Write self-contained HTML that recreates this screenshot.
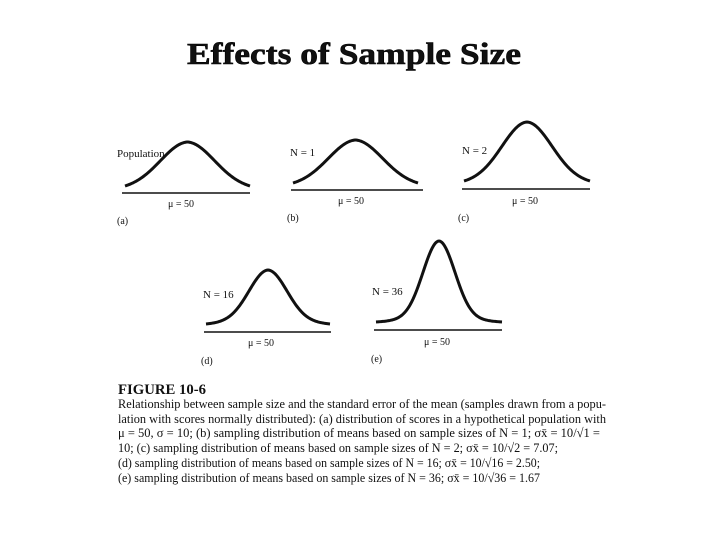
<!DOCTYPE html>
<html><head><meta charset="utf-8"><style>
body{margin:0;background:#fff}
svg{display:block}
text{font-family:"Liberation Serif",serif;fill:#111}
</style></head><body>
<svg id="fig" width="720" height="540" viewBox="0 0 720 540">
<text x="187" y="64" font-size="31" font-weight="bold" stroke="#000" stroke-width="0.6" textLength="334" lengthAdjust="spacingAndGlyphs">Effects of Sample Size</text>
<g id="panels"></g>
<g font-size="13">
<text x="118" y="394" font-size="15" font-weight="bold" textLength="88" lengthAdjust="spacingAndGlyphs">FIGURE 10-6</text>
<text x="118" y="408" textLength="488" lengthAdjust="spacingAndGlyphs">Relationship between sample size and the standard error of the mean (samples drawn from a popu-</text>
<text x="118" y="423" textLength="488" lengthAdjust="spacingAndGlyphs">lation with scores normally distributed): (a) distribution of scores in a hypothetical population with</text>
<text x="118" y="437" textLength="482" lengthAdjust="spacingAndGlyphs">μ = 50, σ = 10; (b) sampling distribution of means based on sample sizes of N = 1; σx̄ = 10/√1 =</text>
<text x="118" y="452" textLength="440" lengthAdjust="spacingAndGlyphs">10; (c) sampling distribution of means based on sample sizes of N = 2; σx̄ = 10/√2 = 7.07;</text>
<text x="118" y="467" textLength="422" lengthAdjust="spacingAndGlyphs">(d) sampling distribution of means based on sample sizes of N = 16; σx̄ = 10/√16 = 2.50;</text>
<text x="118" y="482" textLength="422" lengthAdjust="spacingAndGlyphs">(e) sampling distribution of means based on sample sizes of N = 36; σx̄ = 10/√36 = 1.67</text>
</g>
</svg>
<script>
const panelNames = ["a","b","c","d","e"];
const panelLabels = ["Population","N = 1","N = 2","N = 16","N = 36"];
const peakHeights = [46, 45, 61, 56, 83];
const widths = [27, 27, 25, 19, 16];
const meanLabels = ["μ = 50","μ = 50","μ = 50","μ = 50","μ = 50"];
// layout
const layout = [
 {x0:125,x1:250,base:193,tail:186,bx0:122,bx1:250,lx:117,ly:157,ml:168,my:207,px:117,py:224},
 {x0:293,x1:418,base:190,tail:183,bx0:291,bx1:423,lx:290,ly:156,ml:338,my:204,px:287,py:221},
 {x0:464,x1:590,base:189,tail:181,bx0:462,bx1:590,lx:462,ly:154,ml:512,my:204,px:458,py:221},
 {x0:206,x1:330,base:332,tail:324,bx0:204,bx1:331,lx:203,ly:298,ml:248,my:346,px:201,py:364},
 {x0:376,x1:502,base:330,tail:322,bx0:374,bx1:502,lx:372,ly:295,ml:424,my:345,px:371,py:362}
];
const NS="http://www.w3.org/2000/svg";
const g=document.getElementById("panels");
function mk(t,a){const e=document.createElementNS(NS,t);for(const k in a)e.setAttribute(k,a[k]);return e;}
panelNames.forEach((n,i)=>{
 const L=layout[i];
 const grp=mk("g",{});
 
 
 const mid=(L.x0+L.x1)/2, h=peakHeights[i], s=widths[i];
 const edge=Math.exp(-Math.pow((L.x1-mid)/s,2)/2);
 let d="";
 for(let x=L.x0;x<=L.x1;x+=1){
   const u=(x-mid)/s;
   const v=(Math.exp(-u*u/2)-edge)/(1-edge);
   const y=L.tail - (h-6)*v - 4*(1-Math.abs(x-mid)/((L.x1-L.x0)/2));
   d+=(x===L.x0?"M":"L")+x+","+y.toFixed(2);
 }
 const c=mk("path",{d:d,fill:"none",stroke:"#111","stroke-width":3});
 
 
 grp.appendChild(c);
 const b=mk("line",{x1:L.bx0,x2:L.bx1,y1:L.base,y2:L.base,stroke:"#111","stroke-width":1.5});
 
 
 grp.appendChild(b);
 const t1=mk("text",{x:L.lx,y:L.ly,"font-size":11});
 t1.textContent=panelLabels[i];
 
 
 grp.appendChild(t1);
 const t2=mk("text",{x:L.ml,y:L.my,"font-size":10});
 t2.textContent=meanLabels[i];
 
 
 grp.appendChild(t2);
 const t3=mk("text",{x:L.px,y:L.py,"font-size":10});
 t3.textContent="("+n+")";
 
 
 grp.appendChild(t3);
 g.appendChild(grp);
});
</script>
</body></html>
